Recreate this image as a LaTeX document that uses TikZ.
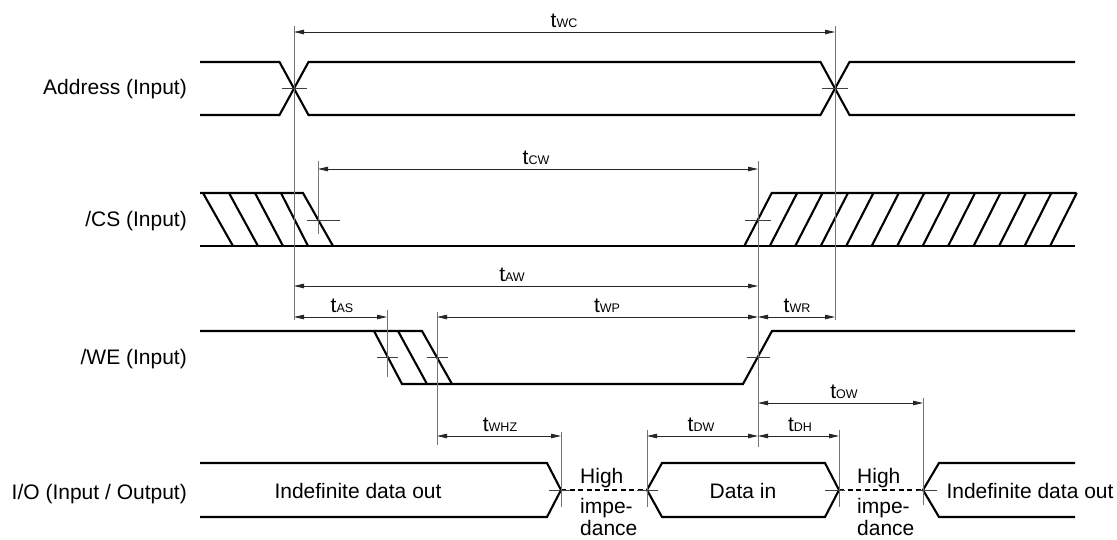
\documentclass[tikz,border=0pt]{standalone}
\usepackage{fontspec}
\setmainfont{Liberation Sans}
\usetikzlibrary{arrows.meta}
\newcommand{\tlab}[1]{{\fontsize{21}{21}\selectfont t}{\fontsize{12.5}{12.5}\selectfont #1}}
\begin{document}
\begin{tikzpicture}[x=1pt,y=-1pt,
  sig/.style={line width=2.1pt,line join=miter,line cap=butt},
  dashsig/.style={line width=2.1pt,dash pattern=on 5pt off 3.5pt},
  guide/.style={line width=1pt,black!55},
  tickmark/.style={line width=0.8pt,black!75},
  dim/.style={line width=0.8pt,black!85,{Triangle[length=10pt,width=4.5pt]}-{Triangle[length=10pt,width=4.5pt]}},
  lbl/.style={inner sep=0pt,font=\fontsize{21}{25}\selectfont},
  tl/.style={inner sep=0pt,anchor=base}]
\useasboundingbox (0,0) rectangle (1117,539);

% ---------- row labels ----------
\node[lbl,anchor=base east] (lA) at (187,94) {Address (Input)};
\node[lbl,anchor=base east] (lCS) at (187,226) {/CS (Input)};
\node[lbl,anchor=base east] (lWE) at (187,364) {/WE (Input)};
\node[lbl,anchor=base east] (lIO) at (187,499) {I/O (Input / Output)};

% ---------- Address ----------
\draw[sig] (200,62)--(279.5,62)--(308.5,115)--(820.5,115)--(849.5,62)--(1075,62);
\draw[sig] (200,115)--(279.5,115)--(308.5,62)--(820.5,62)--(849.5,115)--(1075,115);

% ---------- /CS ----------
\draw[sig] (200,246)--(1075,246);
\draw[sig] (200,193)--(303,193)--(333,246);
\foreach \t/\b in {203/233,229/258,255/283,281/308}
  \draw[sig] (\t,193)--(\b,246);
\draw[sig] (744.3,246)--(771.7,193)--(1076.7,193);
\foreach \k in {1,...,12}
  \draw[sig] ({771.7+25.42*\k},193)--({744.3+25.48*\k},246);

% ---------- /WE ----------
\draw[sig] (200,331)--(374,331)--(402,384)--(743,384)--(772,331)--(1075,331);
\draw[sig] (374,331)--(422,331)--(452,384);
\draw[sig] (398,331)--(427,384);

% ---------- I/O ----------
\draw[sig] (200,463)--(547,463)--(561,490)--(547,517)--(200,517);
\draw[dashsig] (561,490)--(647,490);
\draw[sig] (647,490)--(662,463)--(825,463)--(839,490)--(825,517)--(662,517)--cycle;
\draw[dashsig] (839,490)--(923,490);
\draw[sig] (1075,463)--(939,463)--(923,490)--(939,517)--(1075,517);

\node[lbl,anchor=base] (d1) at (358,498) {Indefinite data out};
\node[lbl,anchor=base] (d2) at (743,498) {Data in};
\node[lbl,anchor=base] (d3) at (1030,498) {Indefinite data out};
\node[lbl,anchor=base west] (h1) at (580,483) {High};
\node[lbl,anchor=base west] (h2) at (580,513) {impe-};
\node[lbl,anchor=base west] (h3) at (580,535) {dance};
\node[lbl,anchor=base west] (h4) at (857,483) {High};
\node[lbl,anchor=base west] (h5) at (857,513) {impe-};
\node[lbl,anchor=base west] (h6) at (857,535) {dance};

% ---------- guide lines ----------
\draw[guide] (294,26)--(294,320);
\draw[guide] (835,26)--(835,320);
\draw[guide] (318,161)--(318,234);
\draw[guide] (758,161)--(758,447);
\draw[guide] (387,310)--(387,377);
\draw[guide] (437,312)--(437,445);
\draw[guide] (923,398)--(923,505);
\draw[guide] (561,432)--(561,507);
\draw[guide] (647,430)--(647,507);
\draw[guide] (839,430)--(839,507);

% ---------- crossing ticks ----------
\foreach \a/\b/\y in {282/307/88.5, 822/848/88.5, 307/340/220, 745/771/220,
   377/398/357.5, 427/448/357.5, 747/770/357.5,
   549/570/490, 637/658/490, 825/845/490, 918/937/490}
  \draw[tickmark] (\a,\y)--(\b,\y);

% ---------- dimension arrows ----------
\coordinate (wc1) at (294,32);  \coordinate (wc2) at (835,32);
\coordinate (cw1) at (318,169); \coordinate (cw2) at (758,169);
\coordinate (aw1) at (294,286); \coordinate (aw2) at (758,286);
\coordinate (as1) at (294,317); \coordinate (as2) at (387,317);
\coordinate (wp1) at (437,317); \coordinate (wp2) at (758,317);
\coordinate (wr1) at (758,317); \coordinate (wr2) at (835,317);
\coordinate (ow1) at (758,403); \coordinate (ow2) at (923,403);
\coordinate (hz1) at (437,436); \coordinate (hz2) at (561,436);
\coordinate (dw1) at (647,436); \coordinate (dw2) at (758,436);
\coordinate (dh1) at (758,436); \coordinate (dh2) at (839,436);

\draw[dim] (wc1)--(wc2);
\draw[dim] (cw1)--(cw2);
\draw[dim] (aw1)--(aw2);
\draw[dim] (as1)--(as2);
\draw[dim] (wp1)--(wp2);
\draw[dim] (wr1)--(wr2);
\draw[dim] (ow1)--(ow2);
\draw[dim] (hz1)--(hz2);
\draw[dim] (dw1)--(dw2);
\draw[dim] (dh1)--(dh2);

\node[tl] (twc) at (564,27) {\tlab{WC}};
\node[tl] (tcw) at (536,164) {\tlab{CW}};
\node[tl] (taw) at (512,281) {\tlab{AW}};
\node[tl] (tas) at (342,312) {\tlab{AS}};
\node[tl] (twp) at (607,312) {\tlab{WP}};
\node[tl] (twr) at (797,312) {\tlab{WR}};
\node[tl] (tow) at (844,398) {\tlab{OW}};
\node[tl] (twhz) at (500,431) {\tlab{WHZ}};
\node[tl] (tdw) at (701,431) {\tlab{DW}};
\node[tl] (tdh) at (800,431) {\tlab{DH}};
\end{tikzpicture}
\end{document}
